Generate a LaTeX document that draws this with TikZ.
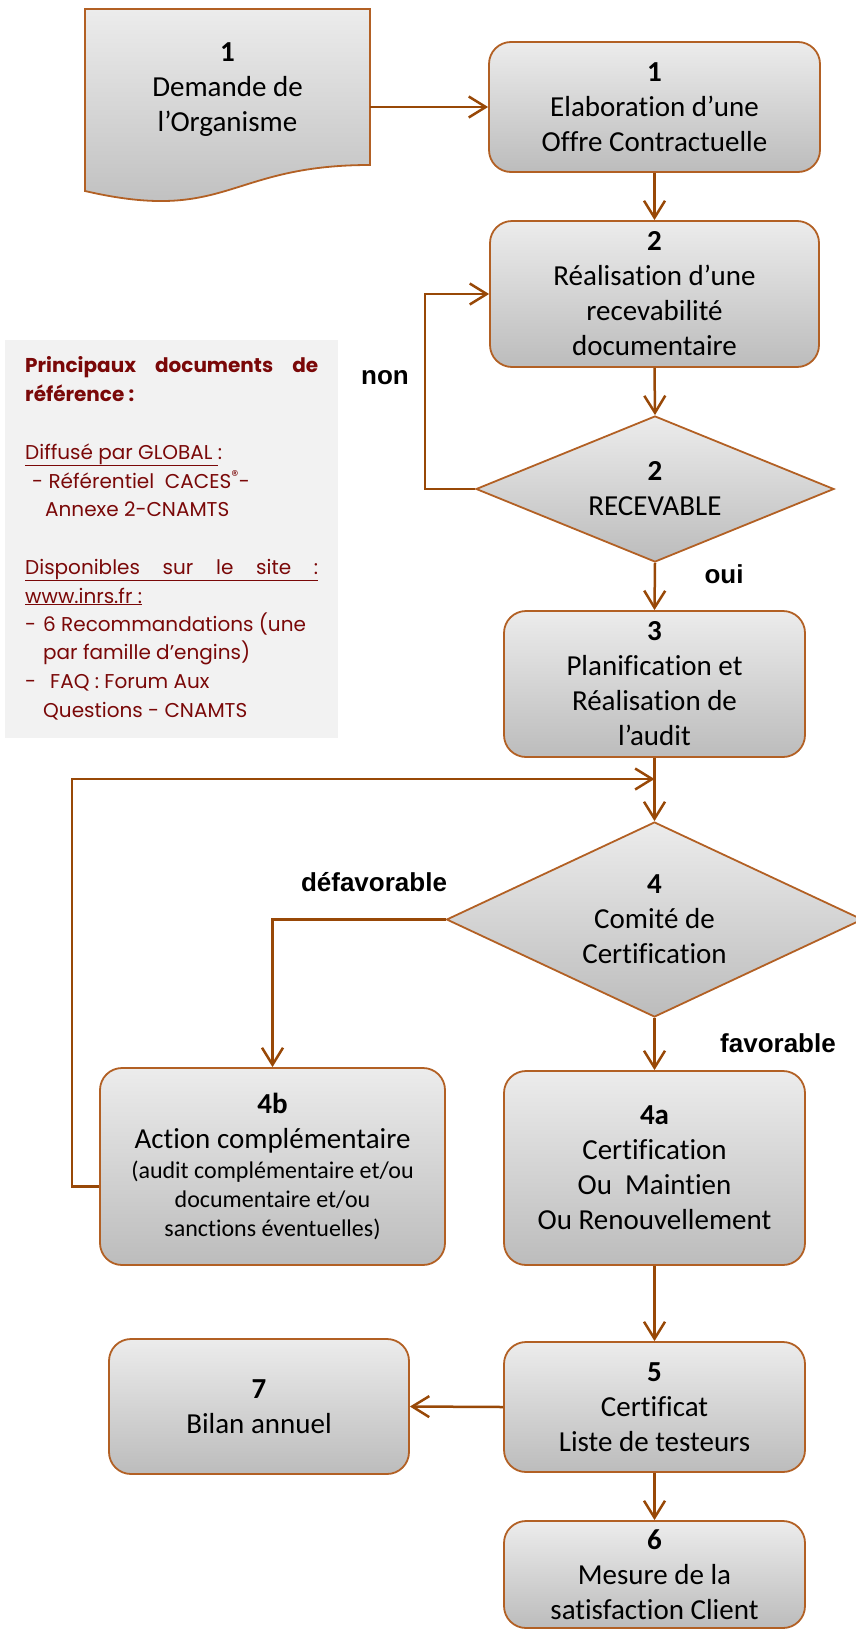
\documentclass[tikz,border=0pt]{standalone}
\usepackage{fontspec}
\setmainfont{Carlito}[Ligatures=NoCommon]
\newfontfamily\arialf{Liberation Sans}
\newfontfamily\docf{Poppins}
\usetikzlibrary{arrows.meta,shapes.geometric,calc}
\definecolor{arrowc}{RGB}{152,72,7}
\definecolor{borderc}{RGB}{178,96,36}
\definecolor{topc}{RGB}{236,236,236}
\definecolor{botc}{RGB}{188,188,188}
\definecolor{panelc}{RGB}{242,242,242}
\definecolor{doctxt}{RGB}{122,8,8}
\newcommand{\smalltxt}{\fontsize{24}{29}\selectfont}
\tikzset{
  box/.style={rounded corners=22pt, draw=borderc, line width=1.8pt, top color=topc, bottom color=botc, align=center, inner sep=0pt, font=\fontsize{29}{35}\selectfont},
  dia/.style={shape=diamond, draw=borderc, line width=1.8pt, top color=topc, bottom color=botc, inner sep=0pt},
  txt/.style={align=center, font=\fontsize{29}{35}\selectfont, inner sep=0pt},
  arr/.style={draw=arrowc, line width=2.5pt, -{Straight Barb[length=17pt,width=21pt,line width=2.5pt]}},
  lbl/.style={font=\arialf\bfseries\fontsize{26}{30}\selectfont, inner sep=0pt},
  refline/.style={font=\docf\fontsize{20}{24}\selectfont, text=doctxt, inner sep=0pt, anchor=base west},
  refhead/.style={font=\docf\bfseries\fontsize{20}{24}\selectfont, text=doctxt, inner sep=0pt, anchor=base west},
}
\begin{document}
\begin{tikzpicture}[x=1pt,y=-1pt]
\useasboundingbox (0,0) rectangle (856,1630);

% reference panel
\fill[panelc] (5,340) rectangle (338,738);
\node[refhead] (r1) at (25,372) {\makebox[293pt][s]{Principaux documents de}};
\node[refhead] (r2) at (25,401) {référence :};
\node[refline] (r3) at (25,459) {\underline{Diffusé par GLOBAL\ }:};
\node[refline] (r4) at (32,488) {- Référentiel\ \ CACES\textsuperscript{®}-};
\node[refline] (r5) at (45,516) {Annexe 2-CNAMTS};
\node[refline] (r6) at (25,574) {\underline{\makebox[293pt][s]{Disponibles sur le site :}}};
\node[refline] (r7) at (25,603) {\underline{www.inrs.fr :}};
\node[refline] (r8) at (25,631) {-};
\node[refline] (r8b) at (43,631) {6 Recommandations (une};
\node[refline] (r9) at (43,659) {par famille d’engins)};
\node[refline] (r10) at (25,688) {-};
\node[refline] (r10b) at (50,688) {FAQ : Forum Aux};
\node[refline] (r11) at (43,717) {Questions - CNAMTS};

% document shape
\path[draw=borderc, line width=1.8pt, top color=topc, bottom color=botc]
  (85,9) -- (370,9) -- (370,165) .. controls (227.5,165) and (227.5,224) .. (85,191) -- cycle;
\node[minimum width=285pt, minimum height=196pt, inner sep=0pt] (doc) at (227.5,107) {};
\node[txt] (doctext) at (227.5,90) {\textbf{1}\\Demande de\\l’Organisme};

% boxes
\node[box, minimum width=331pt, minimum height=130pt] (b1) at (654.5,107) {\textbf{1}\\Elaboration d’une\\Offre Contractuelle};
\node[box, minimum width=329pt, minimum height=146pt] (b2) at (654.5,294) {\textbf{2}\\Réalisation d’une\\recevabilité\\documentaire};
\node[dia, minimum width=358pt, minimum height=146pt] (d2) at (655,489) {};
\node[txt] (d2t) at (d2) {\textbf{2}\\RECEVABLE};
\node[box, minimum width=301pt, minimum height=146pt] (b3) at (654.5,684) {\textbf{3}\\Planification et\\Réalisation de\\l’audit};
\node[dia, minimum width=416pt, minimum height=195pt] (d4) at (654.5,919.5) {};
\node[txt] (d4t) at (d4) {\textbf{4}\\Comité de\\Certification};
\node[box, minimum width=301pt, minimum height=194pt] (b4a) at (654.5,1168) {\textbf{4a}\\Certification\\Ou\ \ Maintien\\Ou Renouvellement};
\node[box, minimum width=345pt, minimum height=197pt] (b4b) at (272.5,1166.5) {\textbf{4b}\\Action complémentaire\\[-5pt]{\smalltxt (audit complémentaire et/ou}\\[-6pt]{\smalltxt documentaire et/ou}\\[-6pt]{\smalltxt sanctions éventuelles)}};
\node[box, minimum width=301pt, minimum height=130pt] (b5) at (654.5,1407) {\textbf{5}\\Certificat\\Liste de testeurs};
\node[box, minimum width=301pt, minimum height=107pt] (b6) at (654.5,1574.5) {\textbf{6}\\Mesure de la\\satisfaction Client};
\node[box, minimum width=300pt, minimum height=135pt] (b7) at (259,1406.5) {\textbf{7}\\Bilan annuel};

\coordinate (j4) at (654.5,779);

% connectors
\draw[arr] (doc.east) -- (b1.west);
\draw[arr] (b1.south) -- (b2.north);
\draw[arr] (b2.south) -- (d2.north);
\draw[arr] (d2.west) -- ++(-50,0) |- (b2.west);
\draw[arr] (d2.south) -- (b3.north);
\draw[draw=arrowc, line width=2.5pt] (b3.south) -- (j4);
\draw[arr] (j4) -- (d4.north);
\draw[arr] ([yshift=-20pt]b4b.west) -- ++(-27,0) |- (j4);
\draw[arr] (d4.west) -| (b4b.north);
\draw[arr] (d4.south) -- (b4a.north);
\draw[arr] (b4a.south) -- (b5.north);
\draw[arr] (b5.west) -- (b7.east);
\draw[arr] (b5.south) -- (b6.north);

% labels
\node[lbl] (lnon) at (385,378) {non};
\node[lbl] (loui) at (724,574) {oui};
\node[lbl] (ldef) at (374,882) {défavorable};
\node[lbl] (lfav) at (778,1043) {favorable};
\end{tikzpicture}
\end{document}
